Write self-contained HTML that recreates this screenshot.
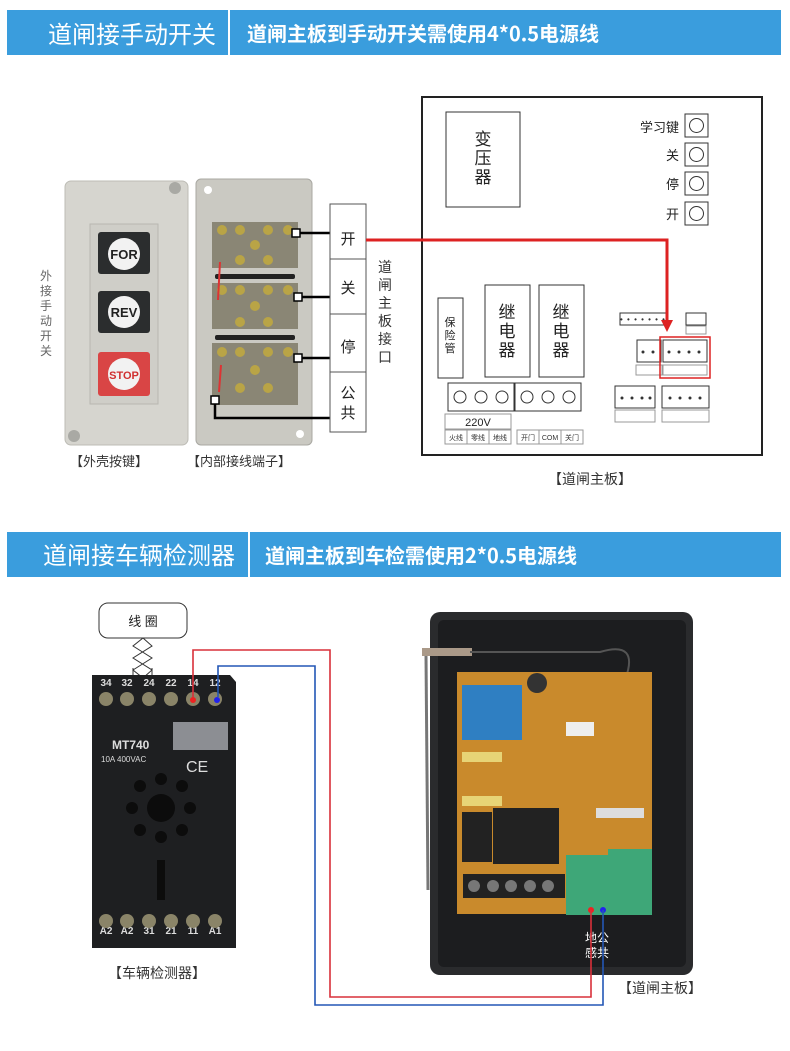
<!DOCTYPE html>
<html><head><meta charset="utf-8"><style>
html,body{margin:0;padding:0;background:#fff;}
svg{display:block;font-family:"Liberation Sans","Noto Sans CJK SC",sans-serif;}
</style></head><body>
<svg width="790" height="1051" viewBox="0 0 790 1051" xmlns="http://www.w3.org/2000/svg">
<!-- header 1 -->
<rect x="7" y="10" width="774" height="45" fill="#3a9ddd"/>
<line x1="229" y1="10" x2="229" y2="55" stroke="#fff" stroke-width="2"/>
<text x="48" y="43" font-size="24" fill="#fff" font-family="Noto Sans CJK SC,sans-serif">道闸接手动开关</text>
<text x="247" y="41" font-size="20" font-weight="bold" fill="#fff" font-family="Noto Sans CJK SC,sans-serif">道闸主板到手动开关需使用4*0.5电源线</text>

<!-- outer switch box -->
<text font-size="12" fill="#666"><tspan x="40" y="280">外</tspan><tspan x="40" y="295">接</tspan><tspan x="40" y="310">手</tspan><tspan x="40" y="325">动</tspan><tspan x="40" y="340">开</tspan><tspan x="40" y="355">关</tspan></text>
<rect x="65" y="181" width="123" height="264" rx="6" fill="#d6d5cf" stroke="#bdbcb5"/>
<circle cx="175" cy="188" r="6" fill="#a9a9a4"/>
<circle cx="74" cy="436" r="6" fill="#a9a9a4"/>
<rect x="90" y="224" width="68" height="180" fill="#cfcec8" stroke="#b8b7b1"/>
<rect x="98" y="232" width="52" height="42" rx="3" fill="#2b2d2e"/>
<circle cx="124" cy="254" r="16" fill="#f2f2f2"/>
<text x="124" y="259" font-size="13" font-weight="bold" fill="#222" text-anchor="middle">FOR</text>
<rect x="98" y="291" width="52" height="42" rx="3" fill="#2b2d2e"/>
<circle cx="124" cy="312" r="16" fill="#f2f2f2"/>
<text x="124" y="317" font-size="13" font-weight="bold" fill="#222" text-anchor="middle">REV</text>
<rect x="98" y="352" width="52" height="44" rx="3" fill="#d94545"/>
<circle cx="124" cy="374" r="16" fill="#f2f2f2"/>
<text x="124" y="379" font-size="11" font-weight="bold" fill="#d03030" text-anchor="middle">STOP</text>
<text x="70" y="466" font-size="13" fill="#333">【外壳按键】</text>

<!-- inner terminal box -->
<rect x="196" y="179" width="116" height="266" rx="5" fill="#cac9c2" stroke="#a9a8a2"/>
<circle cx="208" cy="190" r="4" fill="#fff"/>
<circle cx="300" cy="434" r="4" fill="#fff"/>
<g fill="#8a8675">
<rect x="212" y="222" width="86" height="46"/>
<rect x="212" y="283" width="86" height="46"/>
<rect x="212" y="343" width="86" height="62"/>
</g>
<g fill="#b9a446">
<circle cx="222" cy="230" r="5"/><circle cx="240" cy="230" r="5"/><circle cx="268" cy="230" r="5"/><circle cx="288" cy="230" r="5"/>
<circle cx="240" cy="260" r="5"/><circle cx="268" cy="260" r="5"/><circle cx="255" cy="245" r="5"/>
<circle cx="222" cy="290" r="5"/><circle cx="240" cy="290" r="5"/><circle cx="268" cy="290" r="5"/><circle cx="288" cy="290" r="5"/>
<circle cx="240" cy="322" r="5"/><circle cx="268" cy="322" r="5"/><circle cx="255" cy="306" r="5"/>
<circle cx="222" cy="352" r="5"/><circle cx="240" cy="352" r="5"/><circle cx="268" cy="352" r="5"/><circle cx="288" cy="352" r="5"/>
<circle cx="240" cy="388" r="5"/><circle cx="268" cy="388" r="5"/><circle cx="255" cy="370" r="5"/>
</g>
<rect x="215" y="274" width="80" height="5" rx="2" fill="#222"/>
<rect x="215" y="335" width="80" height="5" rx="2" fill="#222"/>
<path d="M220 262 L218 300 M221 365 L219 392" stroke="#d33" stroke-width="2"/>
<g stroke="#000" stroke-width="2.5" fill="none">
<path d="M296 233 H330"/><path d="M298 297 H330"/><path d="M298 358 H330"/><path d="M215 401 V418 H330"/>
</g>
<g fill="#fff" stroke="#000" stroke-width="1.5">
<rect x="292" y="229" width="8" height="8"/><rect x="294" y="293" width="8" height="8"/><rect x="294" y="354" width="8" height="8"/><rect x="211" y="396" width="8" height="8"/>
</g>
<rect x="330" y="204" width="36" height="228" fill="#fff" stroke="#555"/>
<g stroke="#555"><line x1="330" y1="259" x2="366" y2="259"/><line x1="330" y1="314" x2="366" y2="314"/><line x1="330" y1="372" x2="366" y2="372"/></g>
<g font-size="15" fill="#222" text-anchor="middle">
<text x="348" y="244">开</text><text x="348" y="293">关</text><text x="348" y="352">停</text><text x="348" y="398">公</text><text x="348" y="418">共</text>
</g>
<text x="385" font-size="14" fill="#333" text-anchor="middle"><tspan x="385" y="272">道</tspan><tspan x="385" y="290">闸</tspan><tspan x="385" y="308">主</tspan><tspan x="385" y="326">板</tspan><tspan x="385" y="344">接</tspan><tspan x="385" y="362">口</tspan></text>
<text x="187" y="466" font-size="13" fill="#333">【内部接线端子】</text>

<!-- main board diagram -->
<rect x="422" y="97" width="340" height="358" fill="#fff" stroke="#222" stroke-width="2"/>
<rect x="446" y="112" width="74" height="95" fill="#fff" stroke="#333"/>
<text font-size="17" fill="#222" text-anchor="middle"><tspan x="483" y="145">变</tspan><tspan x="483" y="164">压</tspan><tspan x="483" y="183">器</tspan></text>
<g font-size="13" fill="#222" text-anchor="end"><text x="679" y="132">学习键</text><text x="679" y="160">关</text><text x="679" y="189">停</text><text x="679" y="219">开</text></g>
<g fill="#fff" stroke="#333">
<rect x="685" y="114" width="23" height="23"/><rect x="685" y="143" width="23" height="23"/><rect x="685" y="172" width="23" height="23"/><rect x="685" y="202" width="23" height="23"/>
</g>
<g fill="none" stroke="#333"><circle cx="696.5" cy="125.5" r="7"/><circle cx="696.5" cy="154.5" r="7"/><circle cx="696.5" cy="183.5" r="7"/><circle cx="696.5" cy="213.5" r="7"/></g>
<rect x="438" y="298" width="25" height="80" fill="#fff" stroke="#333"/>
<text font-size="11" fill="#222" text-anchor="middle"><tspan x="450" y="326">保</tspan><tspan x="450" y="339">险</tspan><tspan x="450" y="352">管</tspan></text>
<rect x="485" y="285" width="45" height="92" fill="#fff" stroke="#333"/>
<rect x="539" y="285" width="45" height="92" fill="#fff" stroke="#333"/>
<text font-size="17" fill="#222" text-anchor="middle"><tspan x="507" y="318">继</tspan><tspan x="507" y="337">电</tspan><tspan x="507" y="356">器</tspan><tspan x="561" y="318">继</tspan><tspan x="561" y="337">电</tspan><tspan x="561" y="356">器</tspan></text>
<g fill="#fff" stroke="#333">
<rect x="448" y="383" width="66" height="28"/><rect x="515" y="383" width="66" height="28"/>
</g>
<g fill="#fff" stroke="#333">
<circle cx="460" cy="397" r="6"/><circle cx="481" cy="397" r="6"/><circle cx="502" cy="397" r="6"/>
<circle cx="527" cy="397" r="6"/><circle cx="548" cy="397" r="6"/><circle cx="569" cy="397" r="6"/>
</g>
<rect x="445" y="414" width="66" height="15" fill="#fff" stroke="#999"/>
<text x="478" y="426" font-size="11" fill="#222" text-anchor="middle">220V</text>
<g fill="#fff" stroke="#999"><rect x="445" y="430" width="22" height="14"/><rect x="467" y="430" width="22" height="14"/><rect x="489" y="430" width="22" height="14"/>
<rect x="517" y="430" width="22" height="14"/><rect x="539" y="430" width="22" height="14"/><rect x="561" y="430" width="22" height="14"/></g>
<g font-size="7" fill="#333" text-anchor="middle"><text x="456" y="440">火线</text><text x="478" y="440">零线</text><text x="500" y="440">地线</text><text x="528" y="440">开门</text><text x="550" y="440">COM</text><text x="572" y="440">关门</text></g>
<rect x="620" y="313" width="46" height="12" fill="#fff" stroke="#333"/>
<text x="643" y="322" font-size="8" fill="#333" text-anchor="middle" letter-spacing="1">• • • • • • •</text>
<rect x="686" y="313" width="20" height="12" fill="#fff" stroke="#333"/>
<rect x="686" y="326" width="20" height="8" fill="#fff" stroke="#999"/>
<rect x="637" y="340" width="24" height="22" fill="#fff" stroke="#333"/>
<rect x="663" y="340" width="44" height="22" fill="#fff" stroke="#333"/>
<rect x="636" y="365" width="26" height="10" fill="#fff" stroke="#999"/>
<rect x="663" y="365" width="44" height="10" fill="#fff" stroke="#999"/>
<rect x="660" y="337" width="50" height="41" fill="none" stroke="#d22" stroke-width="1.5"/>
<rect x="615" y="386" width="40" height="22" fill="#fff" stroke="#333"/>
<rect x="662" y="386" width="47" height="22" fill="#fff" stroke="#333"/>
<rect x="615" y="410" width="40" height="12" fill="#fff" stroke="#999"/>
<rect x="662" y="410" width="47" height="12" fill="#fff" stroke="#999"/>
<g fill="#333"><circle cx="643" cy="352" r="1.5"/><circle cx="653" cy="352" r="1.5"/>
<circle cx="669" cy="352" r="1.5"/><circle cx="679" cy="352" r="1.5"/><circle cx="689" cy="352" r="1.5"/><circle cx="699" cy="352" r="1.5"/>
<circle cx="622" cy="398" r="1.5"/><circle cx="632" cy="398" r="1.5"/><circle cx="642" cy="398" r="1.5"/><circle cx="650" cy="398" r="1.5"/>
<circle cx="670" cy="398" r="1.5"/><circle cx="680" cy="398" r="1.5"/><circle cx="690" cy="398" r="1.5"/><circle cx="700" cy="398" r="1.5"/></g>
<path d="M366 240 H667 V322" stroke="#d22" stroke-width="3" fill="none"/>
<polygon points="661,320 673,320 667,332" fill="#d22"/>
<text x="548" y="484" font-size="14" fill="#333">【道闸主板】</text>

<!-- header 2 -->
<rect x="7" y="532" width="774" height="45" fill="#3a9ddd"/>
<line x1="249" y1="532" x2="249" y2="577" stroke="#fff" stroke-width="2"/>
<text x="43" y="564" font-size="24" fill="#fff" font-family="Noto Sans CJK SC,sans-serif">道闸接车辆检测器</text>
<text x="265" y="563" font-size="20" font-weight="bold" fill="#fff" font-family="Noto Sans CJK SC,sans-serif">道闸主板到车检需使用2*0.5电源线</text>

<!-- coil -->
<rect x="99" y="603" width="88" height="35" rx="9" fill="#fff" stroke="#333"/>
<text x="143" y="626" font-size="13" fill="#222" text-anchor="middle">线 圈</text>
<path d="M143 638 L133 646 L152 658 L133 670 L143 678 M143 638 L152 646 L133 658 L152 670 L143 678 M133 668 V680 M152 668 V680" stroke="#333" fill="none"/>
<!-- relay socket -->
<polygon points="92,675 230,675 236,682 236,948 92,948" fill="#1e1f21"/>
<g font-size="10" fill="#ddd" text-anchor="middle" font-weight="bold">
<text x="106" y="686">34</text><text x="127" y="686">32</text><text x="149" y="686">24</text><text x="171" y="686">22</text><text x="193" y="686">14</text><text x="215" y="686">12</text>
<text x="106" y="934">A2</text><text x="127" y="934">A2</text><text x="149" y="934">31</text><text x="171" y="934">21</text><text x="193" y="934">11</text><text x="215" y="934">A1</text>
</g>
<g fill="#8a8468"><circle cx="106" cy="699" r="7"/><circle cx="127" cy="699" r="7"/><circle cx="149" cy="699" r="7"/><circle cx="171" cy="699" r="7"/><circle cx="193" cy="699" r="7"/><circle cx="215" cy="699" r="7"/>
<circle cx="106" cy="921" r="7"/><circle cx="127" cy="921" r="7"/><circle cx="149" cy="921" r="7"/><circle cx="171" cy="921" r="7"/><circle cx="193" cy="921" r="7"/><circle cx="215" cy="921" r="7"/></g>
<circle cx="193" cy="700" r="3" fill="#e22"/><circle cx="217" cy="700" r="3" fill="#22e"/>
<rect x="173" y="722" width="55" height="28" fill="#8c8e93"/>
<text x="112" y="749" font-size="12" fill="#ddd" font-weight="bold">MT740</text>
<text x="101" y="762" font-size="8" fill="#ddd">10A 400VAC</text>
<text x="186" y="772" font-size="16" fill="#ddd">CE</text>
<circle cx="161" cy="808" r="14" fill="#0c0c0c"/>
<g fill="#0c0c0c"><circle cx="161" cy="779" r="6"/><circle cx="182" cy="786" r="6"/><circle cx="190" cy="808" r="6"/><circle cx="182" cy="830" r="6"/><circle cx="161" cy="837" r="6"/><circle cx="140" cy="830" r="6"/><circle cx="132" cy="808" r="6"/><circle cx="140" cy="786" r="6"/></g>
<rect x="157" y="860" width="8" height="40" fill="#0c0c0c"/>
<text x="108" y="978" font-size="14" fill="#333">【车辆检测器】</text>

<!-- gate board photo -->
<rect x="430" y="612" width="263" height="363" rx="10" fill="#2a2b2d"/>
<rect x="438" y="620" width="248" height="347" rx="6" fill="#1c1d1f"/>
<line x1="426" y1="655" x2="428" y2="890" stroke="#777" stroke-width="3"/>
<rect x="422" y="648" width="50" height="8" fill="#a98"/>
<path d="M470 652 H600 Q640 640 625 680" stroke="#555" stroke-width="2" fill="none"/>
<rect x="457" y="672" width="195" height="242" fill="#c98a2c"/>
<rect x="462" y="685" width="60" height="55" fill="#2f7fc2"/>
<rect x="462" y="752" width="40" height="10" fill="#e7d476"/>
<rect x="462" y="796" width="40" height="10" fill="#e7d476"/>
<circle cx="537" cy="683" r="10" fill="#333"/>
<rect x="462" y="812" width="30" height="50" fill="#222"/>
<rect x="493" y="808" width="34" height="56" fill="#222"/>
<rect x="527" y="808" width="32" height="56" fill="#222"/>
<rect x="566" y="722" width="28" height="14" fill="#eee"/>
<rect x="596" y="808" width="48" height="10" fill="#ddd"/>
<rect x="566" y="855" width="44" height="60" fill="#3ea778"/>
<rect x="608" y="849" width="44" height="66" fill="#3ea778"/>
<rect x="463" y="874" width="102" height="24" fill="#222"/>
<g fill="#777"><circle cx="474" cy="886" r="6"/><circle cx="493" cy="886" r="6"/><circle cx="511" cy="886" r="6"/><circle cx="530" cy="886" r="6"/><circle cx="548" cy="886" r="6"/></g>
<circle cx="591" cy="910" r="3" fill="#e22"/><circle cx="603" cy="910" r="3" fill="#22e"/>
<text font-size="12" fill="#fff" text-anchor="middle"><tspan x="597" y="942">地公</tspan><tspan x="597" y="957">感共</tspan></text>

<!-- wires -->
<path d="M193 697 V650 H330 V997 H591 V910" stroke="#d9303a" stroke-width="1.6" fill="none"/>
<path d="M218 697 V666 H315 V1005 H603 V910" stroke="#2357b5" stroke-width="1.6" fill="none"/>
<text x="618" y="993" font-size="14" fill="#333">【道闸主板】</text>
</svg>
</body></html>
